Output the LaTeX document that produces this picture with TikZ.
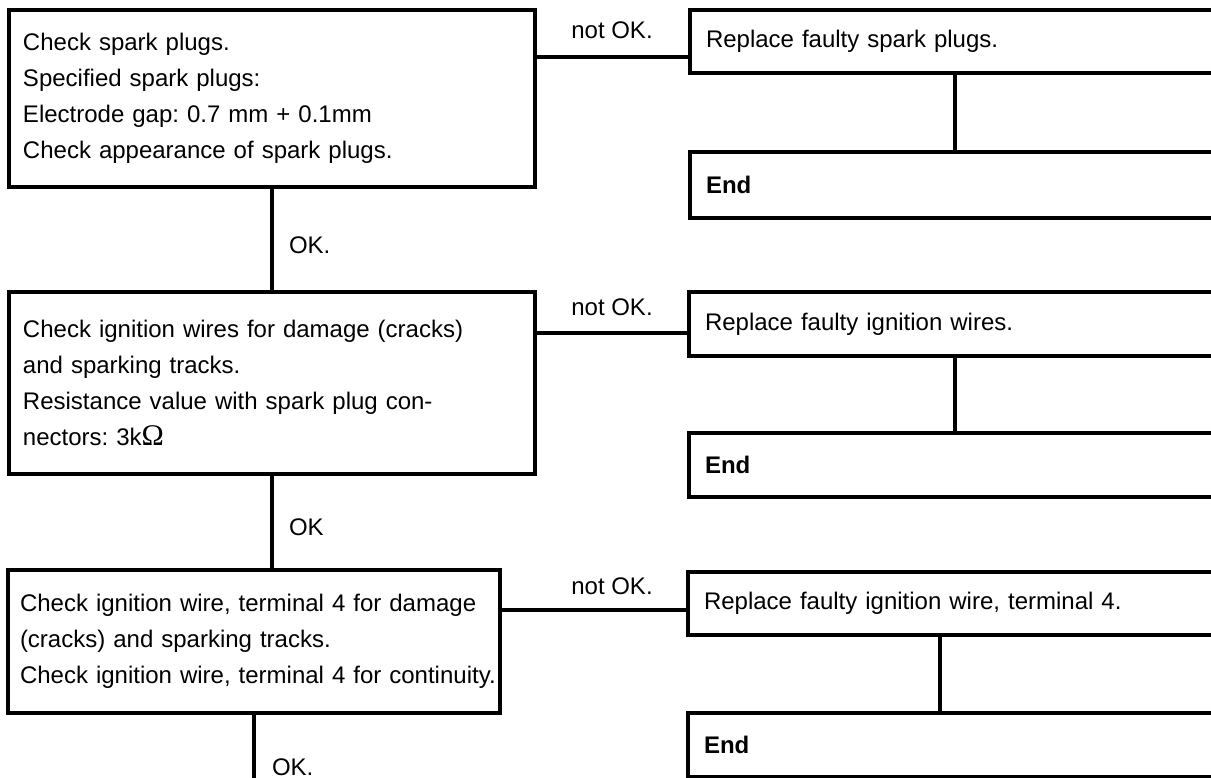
\documentclass[tikz,border=0pt]{standalone}
\usepackage{fontspec}
\setmainfont{Liberation Sans}
\newfontfamily\omegafont{Liberation Serif}
\frenchspacing
\begin{document}
\begin{tikzpicture}[x=1pt,y=-1pt,
  font=\fontsize{24}{36}\selectfont\frenchspacing,
  line width=4pt,
  box/.style={draw, line width=4pt, anchor=north west, inner xsep=14pt, inner ysep=0pt, align=left, outer sep=0pt},
  rbox/.style={box, inner xsep=16pt, minimum width=560pt, text width=528pt},
  lbl/.style={inner sep=0pt},
  conn/.style={draw, line width=4pt}]
\useasboundingbox (0,0) rectangle (1211,778);
\clip (0,0) rectangle (1211,778);
% left boxes
\node[box, minimum width=526pt, minimum height=177pt, text width=498pt] (b1) at (9,10)
  {Check spark plugs.\\Specified spark plugs:\\Electrode gap: 0.7 mm + 0.1mm\\Check appearance of spark plugs.};
\node[box, minimum width=526pt, minimum height=182pt, text width=498pt] (b2) at (9,292)
  {Check ignition wires for damage (cracks)\\and sparking tracks.\\Resistance value with spark plug con-\\nectors: 3k{\omegafont\fontsize{30}{36}\selectfont Ω}};
\node[box, minimum width=492pt, minimum height=143pt, text width=468pt, inner xsep=12pt] (b3) at (8,570)
  {\mbox{Check ignition wire, terminal 4 for damage}\\\mbox{(cracks) and sparking tracks.}\\\mbox{Check ignition wire, terminal 4 for continuity.}};
% right boxes
\node[rbox, minimum height=63pt] (r1) at (690,10) {Replace faulty spark plugs.};
\node[rbox, minimum height=66pt] (e1) at (690,152) {\textbf{End}};
\node[rbox, minimum height=64pt] (r2) at (689,292) {Replace faulty ignition wires.};
\node[rbox, minimum height=64pt] (e2) at (689,433) {\textbf{End}};
\node[rbox, minimum height=63pt] (r3) at (688,572) {Replace faulty ignition wire, terminal 4.};
\node[rbox, minimum height=64pt] (e3) at (688,713) {\textbf{End}};
% horizontal connectors
\coordinate (c1) at ([yshift=-47pt]b1.north east);
\coordinate (c2) at ([yshift=-41pt]b2.north east);
\coordinate (c3) at ([yshift=-40pt]b3.north east);
\draw[conn] (c1) -- (c1 -| r1.west);
\draw[conn] (c2) -- (c2 -| r2.west);
\draw[conn] (c3) -- (c3 -| r3.west);
\node[lbl] (n1) at (612,30) {not OK.};
\node[lbl] (n2) at (612,307) {not OK.};
\node[lbl] (n3) at (612,586) {not OK.};
% vertical connectors left
\coordinate (bottom) at (0,782);
\draw[conn] (b1.south) -- (b2.north);
\draw[conn] (b2.south) -- (b2.south |- b3.north);
\draw[conn] (b3.south) -- (b3.south |- bottom);
\node[lbl, anchor=west] (k1) at (287,245) {OK.};
\node[lbl, anchor=west] (k2) at (287,527) {OK};
\node[lbl, anchor=west] (k3) at (270,767) {OK.};
% vertical connectors right
\draw[conn] ([xshift=265pt]r1.south west) -- ([xshift=265pt]e1.north west);
\draw[conn] ([xshift=266pt]r2.south west) -- ([xshift=266pt]e2.north west);
\draw[conn] ([xshift=252pt]r3.south west) -- ([xshift=252pt]e3.north west);
\end{tikzpicture}
\end{document}
